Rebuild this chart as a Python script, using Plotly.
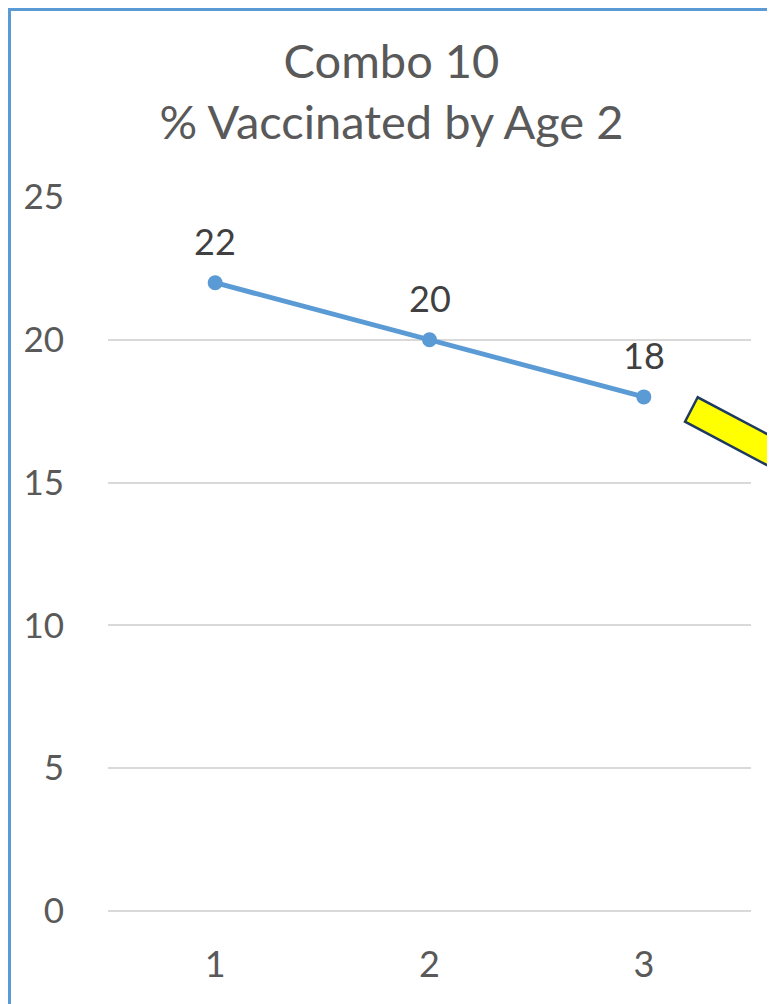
import plotly.graph_objects as go

# chart data
years = [1, 2, 3]
pct_vaccinated = [22, 20, 18]
y_ticks = [0, 5, 10, 15, 20, 25]

# page body has an 8px margin, so work in page pixels minus 8
OFF = 8
W, H = 775 - OFF, 1004 - OFF
L, R, T, B = 108 - OFF, 751 - OFF, 197 - OFF, 911 - OFF   # plot area in pixels


def px_to_paper(px, py):
    px, py = px - OFF, py - OFF
    return (px - L) / (R - L), (B - py) / (B - T)


fig = go.Figure()
fig.add_trace(go.Scatter(
    x=years, y=pct_vaccinated, mode='lines+markers',
    line=dict(color='#5B9BD5', width=5),
    marker=dict(color='#5B9BD5', size=15),
    cliponaxis=False, showlegend=False,
))

for xv, yv in zip(years, pct_vaccinated):
    fig.add_annotation(x=xv, y=yv, text=str(yv), showarrow=False, yshift=42,
                       font=dict(family='Lato', size=36, color='#404040'))

# chart border (cropped at right and bottom); kept just inside the svg
bx0, by1 = px_to_paper(9.5, 9.5)
bx1, by0 = px_to_paper(900, 1100)
fig.add_shape(type='rect', xref='paper', yref='paper', x0=bx0, x1=bx1, y0=by0, y1=by1,
              line=dict(color='#5B9BD5', width=3), layer='below')

# yellow arrow shaft coming in from the right
pts = [(697.7, 397.3), (685, 421.7), (800, 482.7), (800, 451.5)]
path = ''
for i, (a, b) in enumerate(pts):
    xp, yp = px_to_paper(a, b)
    path += ('M' if i == 0 else 'L') + f'{xp:.4f},{yp:.4f} '
path += 'Z'
fig.add_shape(type='path', xref='paper', yref='paper', path=path,
              fillcolor='#FFFF00', line=dict(color='#1F3A5F', width=2.5))

fig.update_layout(
    width=W, height=H,
    margin=dict(l=L, r=W - R, t=T, b=H - B),
    plot_bgcolor='white', paper_bgcolor='white',
    title=dict(text='Combo 10<br>% Vaccinated by Age 2', x=0.5, xanchor='center',
               y=1 - (78 - OFF) / H, yanchor='middle',
               font=dict(family='Lato', size=47, color='#595959')),
    font=dict(family='Lato', color='#595959'),
)
fig.update_xaxes(range=[0.5, 3.5], tickvals=years, showgrid=False, zeroline=False,
                 showline=False, tickfont=dict(size=36, color='#595959'),
                 ticks='outside', ticklen=22, tickcolor='white')
fig.update_yaxes(range=[0, 25], tickvals=y_ticks, showgrid=True, gridcolor='#D9D9D9',
                 gridwidth=1.5, zeroline=True, zerolinecolor='#D9D9D9', zerolinewidth=1.5,
                 showline=False, tickfont=dict(size=35, color='#595959'),
                 ticks='outside', ticklen=36, tickcolor='white')

fig.write_html("out.html")
